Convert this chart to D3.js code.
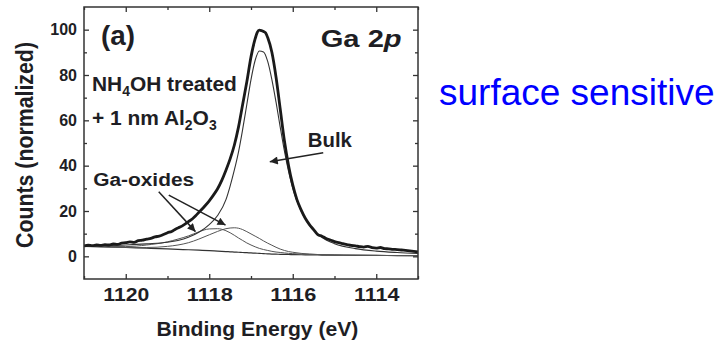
<!DOCTYPE html>
<html>
<head>
<meta charset="utf-8">
<script src="https://cdn.jsdelivr.net/npm/d3@7"></script>
<style>
  body { margin: 0; background: #fff; }
  svg { display: block; font-family: "Liberation Sans", Arial, sans-serif; }
</style>
</head>
<body>
<div id="chart"></div>
<script>
// binding energy grid for the fitted components (eV, descending)
const compEnergy = [1121, 1120.5, 1120, 1119.5, 1119, 1118.75, 1118.5, 1118.25, 1118, 1117.8, 1117.6, 1117.5,
    1117.4, 1117.3, 1117.2, 1117.1, 1117.0, 1116.9, 1116.8, 1116.7, 1116.6, 1116.5, 1116.4, 1116.3,
    1116.2, 1116.1, 1116.0, 1115.8, 1115.6, 1115.4, 1115.2, 1115.0, 1114.5, 1114.0, 1113.5, 1113.0];

const background = [4.4, 4.2, 3.9, 3.6, 3.3, 3.1, 2.9, 2.7, 2.5, 2.3, 2.1, 2.0,
    1.9, 1.8, 1.7, 1.6, 1.5, 1.4, 1.3, 1.2, 1.1, 1.0, 0.95, 0.9,
    0.85, 0.8, 0.75, 0.7, 0.65, 0.6, 0.55, 0.5, 0.45, 0.4, 0.35, 0.3];

const bulk = [4.5, 4.7, 5.0, 5.5, 6.2, 7.0, 8.4, 10.6, 14.0, 18.0, 25, 31,
    38, 46, 56, 67, 78, 86.5, 90.6, 90.2, 86, 78, 68, 57,
    46.5, 37.5, 30, 20, 13.8, 9.8, 7.2, 5.6, 3.4, 2.3, 1.7, 1.3];

const oxide1 = [4.4, 4.3, 4.3, 5.0, 6.4, 7.6, 9.0, 10.8, 12.1, 12.2, 11.3, 10.4,
    9.3, 8.1, 7.0, 5.9, 5.0, 4.2, 3.5, 3.0, 2.6, 2.2, 1.9, 1.7,
    1.5, 1.3, 1.2, 1.0, 0.9, 0.8, 0.7, 0.6, 0.5, 0.4, 0.35, 0.3];

const oxide2 = [4.4, 4.2, 3.9, 3.9, 4.4, 5.0, 6.0, 7.6, 9.5, 11.0, 12.2, 12.5,
    12.6, 12.4, 11.8, 10.9, 9.9, 8.9, 7.9, 6.8, 5.8, 4.9, 4.0, 3.2,
    2.6, 2.1, 1.8, 1.3, 1.0, 0.8, 0.7, 0.6, 0.5, 0.4, 0.35, 0.3];

// measured spectrum (thick line)
const dataEnergy = [1121.0, 1120.9, 1120.8, 1120.7, 1120.6, 1120.5, 1120.4, 1120.3, 1120.2, 1120.1, 1120.0,
    1119.9, 1119.8, 1119.7, 1119.6, 1119.5, 1119.4, 1119.3, 1119.2, 1119.1, 1119.0,
    1118.9, 1118.8, 1118.7, 1118.6, 1118.5, 1118.4, 1118.3, 1118.2, 1118.1, 1118.0,
    1117.9, 1117.8, 1117.7, 1117.6, 1117.5, 1117.4, 1117.3, 1117.2, 1117.1, 1117.0,
    1116.9, 1116.85, 1116.8, 1116.75, 1116.7, 1116.65, 1116.6, 1116.5, 1116.4, 1116.3, 1116.2, 1116.1, 1116.0,
    1115.9, 1115.8, 1115.7, 1115.6, 1115.5, 1115.4, 1115.3, 1115.2, 1115.1, 1115.0,
    1114.9, 1114.8, 1114.7, 1114.6, 1114.5, 1114.4, 1114.3, 1114.2, 1114.1, 1114.0,
    1113.9, 1113.8, 1113.7, 1113.6, 1113.5, 1113.4, 1113.3, 1113.2, 1113.1, 1113.0];
const dataCounts = [4.6, 4.9, 4.7, 5.0, 4.8, 5.2, 5.0, 5.5, 5.3, 5.8, 6.0,
    6.4, 6.2, 6.9, 7.1, 7.6, 7.9, 8.6, 8.9, 9.6, 10.4,
    11.0, 12.1, 12.9, 14.0, 15.3, 16.6, 18.4, 20.3, 22.3, 24.5,
    27.0, 29.8, 33.5, 38, 43, 49, 57, 67, 77, 88,
    96, 98.8, 99.8, 99.6, 99.2, 98.6, 96.5, 90, 79, 65, 51, 40, 31.5,
    25, 20.5, 16.8, 14.0, 11.8, 9.6, 8.9, 7.9, 7.2, 6.5,
    6.0, 5.6, 5.2, 4.8, 4.6, 4.3, 4.1, 4.4, 3.8, 3.6,
    3.9, 3.4, 3.3, 3.1, 3.0, 2.8, 2.6, 2.4, 2.2, 2.0];

const xMajor = [1120, 1118, 1116, 1114];
const xMinor = [1121, 1119, 1117, 1115, 1113];
const yMajor = [0, 20, 40, 60, 80, 100];
const yMinor = [10, 30, 50, 70, 90];

// annotations in data units: [energy, counts]
const arrows = [
    [[1115.27, 45.7], [1116.55, 41.7]],
    [[1119.21, 28.5], [1118.33, 10.9]],
    [[1118.97, 27.0], [1117.61, 13.8]]
];

const W = 719, H = 344;
const svg = d3.select("#chart").append("svg").attr("width", W).attr("height", H);

const x = d3.scaleLinear().domain([1121, 1113]).range([84, 418]);
const y = d3.scaleLinear().domain([-10, 110]).range([279, 7]);

const ink = "#1e1e24";

// stretch a text element horizontally so it spans the given width
function fit(t, width) {
    const bb = t.node().getBBox();
    const k = width / bb.width;
    t.attr("transform", `translate(${bb.x},0) scale(${k},1) translate(${-bb.x},0)`);
    return t;
}

// curves
svg.append("clipPath").attr("id", "clip").append("rect")
    .attr("x", 84).attr("y", 7).attr("width", 334).attr("height", 272);
const plot = svg.append("g").attr("clip-path", "url(#clip)");

const compLine = vals => d3.line()
    .x((d, i) => x(compEnergy[i]))
    .y((d, i) => y(vals[i]))
    .curve(d3.curveMonotoneX)(compEnergy);

plot.append("path").attr("d", compLine(background)).attr("fill", "none").attr("stroke", "#333").attr("stroke-width", 1.2);
plot.append("path").attr("d", compLine(oxide1)).attr("fill", "none").attr("stroke", "#555").attr("stroke-width", 1);
plot.append("path").attr("d", compLine(oxide2)).attr("fill", "none").attr("stroke", "#555").attr("stroke-width", 1);
plot.append("path").attr("d", compLine(bulk)).attr("fill", "none").attr("stroke", "#333").attr("stroke-width", 1.1);

const dataLine = d3.line()
    .x((d, i) => x(dataEnergy[i]))
    .y((d, i) => y(dataCounts[i]))
    .curve(d3.curveMonotoneX);
plot.append("path").attr("d", dataLine(dataEnergy)).attr("fill", "none")
    .attr("stroke", "#1a1a1a").attr("stroke-width", 2.8).attr("stroke-linejoin", "round");

// frame
svg.append("rect").attr("x", 84).attr("y", 7).attr("width", 334).attr("height", 272)
    .attr("fill", "none").attr("stroke", "#333").attr("stroke-width", 1.5);

// axes, ticks inside
const styleAxis = g => {
    g.select(".domain").remove();
    g.selectAll(".tick line").attr("stroke", "#333").attr("stroke-width", 1.3);
};

svg.append("g").attr("transform", "translate(0,279)")
    .call(d3.axisBottom(x).tickValues(xMajor).tickSize(-5).tickPadding(9).tickFormat(d3.format("d")))
    .call(styleAxis)
    .call(g => g.selectAll("text").attr("fill", ink).attr("font-size", 19).attr("font-weight", "bold")
        .attr("font-family", "Liberation Sans, Arial, sans-serif"));
svg.append("g").attr("transform", "translate(0,279)")
    .call(d3.axisBottom(x).tickValues(xMinor).tickSize(-3).tickFormat(""))
    .call(styleAxis);
svg.append("g").attr("transform", "translate(0,7)")
    .call(d3.axisTop(x).tickValues(xMajor).tickSize(-5).tickFormat(""))
    .call(styleAxis);
svg.append("g").attr("transform", "translate(0,7)")
    .call(d3.axisTop(x).tickValues(xMinor).tickSize(-3).tickFormat(""))
    .call(styleAxis);

svg.append("g").attr("transform", "translate(84,0)")
    .call(d3.axisLeft(y).tickValues(yMajor).tickSize(-5).tickPadding(7))
    .call(styleAxis)
    .call(g => g.selectAll("text").attr("fill", ink).attr("font-size", 16).attr("font-weight", "bold")
        .attr("font-family", "Liberation Sans, Arial, sans-serif"));
svg.append("g").attr("transform", "translate(84,0)")
    .call(d3.axisLeft(y).tickValues(yMinor).tickSize(-3).tickFormat(""))
    .call(styleAxis);
svg.append("g").attr("transform", "translate(418,0)")
    .call(d3.axisRight(y).tickValues(yMajor).tickSize(-5).tickFormat(""))
    .call(styleAxis);
svg.append("g").attr("transform", "translate(418,0)")
    .call(d3.axisRight(y).tickValues(yMinor).tickSize(-3).tickFormat(""))
    .call(styleAxis);

// stretch x tick labels to the reference width
svg.selectAll("g.tick text").filter(function () { return this.textContent.length === 4; })
    .each(function () {
        const t = d3.select(this);
        const bb = this.getBBox();
        const k = 46 / bb.width;
        const cx = bb.x + bb.width / 2;
        t.attr("transform", `translate(${cx},0) scale(${k},1) translate(${-cx},0)`);
    });

// axis titles
fit(svg.append("text").attr("x", 252).attr("y", 336).attr("text-anchor", "middle")
    .attr("font-size", 20).attr("font-weight", "bold").attr("fill", ink)
    .text("Binding Energy (eV)"), 202);

svg.append("text")
    .attr("transform", "translate(33,145) rotate(-90)")
    .attr("text-anchor", "middle")
    .attr("font-size", 23).attr("font-weight", "bold").attr("fill", ink)
    .attr("textLength", 206).attr("lengthAdjust", "spacingAndGlyphs")
    .text("Counts (normalized)");

// in-plot labels
const label = (e, v, size) => svg.append("text").attr("x", x(e)).attr("y", y(v))
    .attr("font-size", size).attr("font-weight", "bold").attr("fill", ink);

fit(label(1120.59, 93.2, 27).text("(a)"), 34);

const ga = label(1115.33, 92.3, 23);
ga.append("tspan").text("Ga 2");
ga.append("tspan").attr("font-style", "italic").text("p");
fit(ga, 81);

const nh = label(1120.81, 73, 21);
nh.append("tspan").text("NH");
nh.append("tspan").attr("font-size", 14).attr("dy", 5).text("4");
nh.append("tspan").attr("dy", -5).text("OH treated");
fit(nh, 145);

const al = label(1120.81, 58, 21);
al.append("tspan").text("+ 1 nm Al");
al.append("tspan").attr("font-size", 14).attr("dy", 5).text("2");
al.append("tspan").attr("dy", -5).text("O");
al.append("tspan").attr("font-size", 14).attr("dy", 5).text("3");
fit(al, 125);

fit(label(1115.64, 48.2, 20).text("Bulk"), 45);
fit(label(1120.78, 31, 19).text("Ga-oxides"), 101);

// arrows
svg.append("defs").append("marker")
    .attr("id", "head").attr("viewBox", "0 0 10 10")
    .attr("refX", 10).attr("refY", 5)
    .attr("markerWidth", 13).attr("markerHeight", 8)
    .attr("markerUnits", "userSpaceOnUse")
    .attr("orient", "auto")
    .append("path").attr("d", "M0,0 L10,5 L0,10 Z").attr("fill", "#222");

arrows.forEach(a => {
    svg.append("line")
        .attr("x1", x(a[0][0])).attr("y1", y(a[0][1]))
        .attr("x2", x(a[1][0])).attr("y2", y(a[1][1]))
        .attr("stroke", "#222").attr("stroke-width", 1.5)
        .attr("marker-end", "url(#head)");
});

// side note
svg.append("text").attr("x", 439).attr("y", 105)
    .attr("font-size", 37).attr("fill", "#0000ff")
    .text("surface sensitive");
</script>
</body>
</html>
